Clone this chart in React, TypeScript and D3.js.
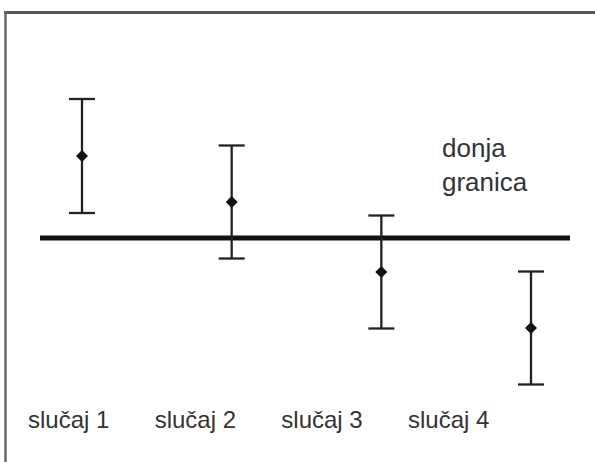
import React, { useEffect, useRef } from "react";
import * as d3 from "d3";

const W = 595;
const H = 462;

// data
const cases = ["slučaj 1", "slučaj 2", "slučaj 3", "slučaj 4"];
const means = [8.2, 3.6, -3.4, -9.0];
const errors = [5.7, 5.65, 5.65, 5.65];
const lowerBound = 0;
const boundLabel = ["donja", "granica"];

function draw(svgEl: SVGSVGElement) {
  const svg = d3.select(svgEl);
  svg.selectAll("*").remove();

  const y = d3.scaleLinear().domain([-15, 15]).range([388, 88]);
  const x = d3.scalePoint().domain(cases).range([82, 531]);
  const xLabel = d3.scalePoint().domain(cases).range([28, 408]);

  // frame (top + left only)
  svg.append("line")
    .attr("x1", 4).attr("x2", W).attr("y1", 12.5).attr("y2", 12.5)
    .attr("stroke", "#555").attr("stroke-width", 3);
  svg.append("line")
    .attr("x1", 5.5).attr("x2", 5.5).attr("y1", 11).attr("y2", H)
    .attr("stroke", "#666").attr("stroke-width", 2.5);

  // lower bound line
  svg.append("line")
    .attr("x1", 40).attr("x2", 570)
    .attr("y1", y(lowerBound)).attr("y2", y(lowerBound))
    .attr("stroke", "#111").attr("stroke-width", 5);

  // error bars
  const g = svg.append("g");
  const bars = g.selectAll("g.bar")
    .data(cases)
    .enter()
    .append("g")
    .attr("class", "bar");

  bars.append("line")
    .attr("x1", d => x(d)!).attr("x2", d => x(d)!)
    .attr("y1", (d, i) => y(means[i] + errors[i]))
    .attr("y2", (d, i) => y(means[i] - errors[i]))
    .attr("stroke", "#222").attr("stroke-width", 2.3);

  [1, -1].forEach(sgn => {
    bars.append("line")
      .attr("x1", d => x(d)! - 13).attr("x2", d => x(d)! + 13)
      .attr("y1", (d, i) => y(means[i] + sgn * errors[i]))
      .attr("y2", (d, i) => y(means[i] + sgn * errors[i]))
      .attr("stroke", "#222").attr("stroke-width", 2.3);
  });

  bars.append("path")
    .attr("d", d3.symbol().type(d3.symbolSquare).size(72)()!)
    .attr("transform", (d, i) => `translate(${x(d)},${y(means[i])}) rotate(45)`)
    .attr("fill", "#111");

  // case labels
  svg.append("g")
    .selectAll("text")
    .data(cases)
    .enter()
    .append("text")
    .attr("x", d => xLabel(d)!)
    .attr("y", 428)
    .attr("font-family", "'Liberation Sans', Arial, sans-serif")
    .attr("font-size", 24)
    .attr("fill", "#333")
    .text(d => d);

  // bound label
  svg.append("text")
    .attr("font-family", "'Liberation Sans', Arial, sans-serif")
    .attr("font-size", 26)
    .attr("fill", "#333")
    .selectAll("tspan")
    .data(boundLabel)
    .enter()
    .append("tspan")
    .attr("x", 442)
    .attr("y", (d, i) => 157 + i * 34)
    .text(d => d);
}

export default function App() {
  const ref = useRef<SVGSVGElement>(null);

  useEffect(() => {
    if (ref.current) draw(ref.current);
  }, []);

  return (
    <svg
      ref={ref}
      width={W}
      height={H}
      style={{ position: "absolute", left: 0, top: 0, background: "#fff" }}
    />
  );
}
